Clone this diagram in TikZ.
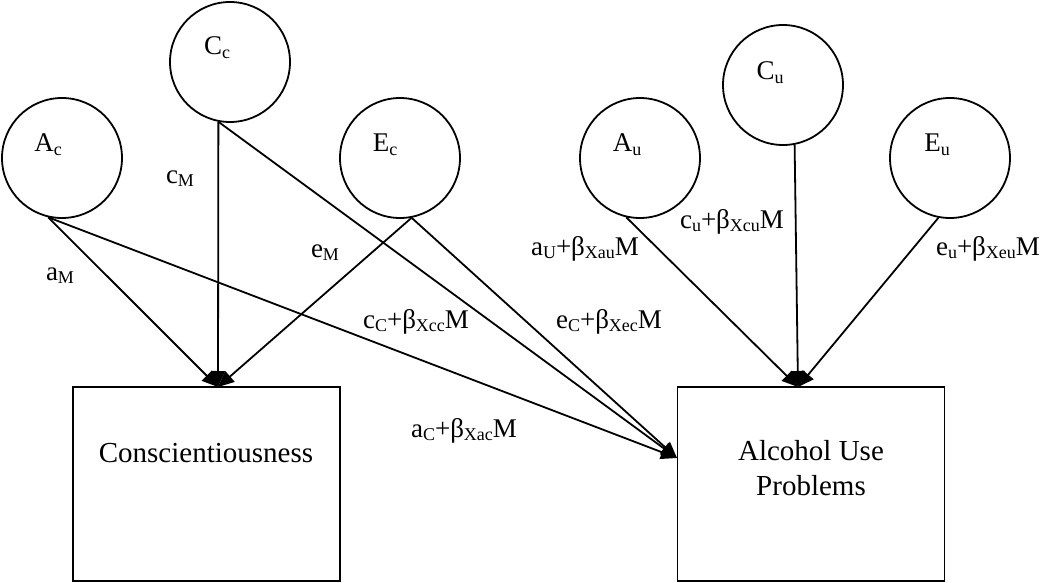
\documentclass[tikz,border=0pt]{standalone}
\usepackage{fontspec}
\setmainfont{Liberation Serif}
\usetikzlibrary{arrows.meta}
\newcommand\lsb[1]{\raisebox{-3.5pt}{\fontsize{18}{18}\selectfont #1}}
\begin{document}
\begin{tikzpicture}[x=1pt,y=-1pt,
  lat/.style={draw,circle,line width=1.8pt,minimum size=120pt,inner sep=0pt},
  obs/.style={draw,rectangle,line width=1.8pt,minimum width=267pt,minimum height=194pt,inner sep=0pt},
  lab/.style={font=\fontsize{27}{30}\selectfont,inner sep=0pt,anchor=base},
  btxt/.style={font=\fontsize{29}{35}\selectfont,inner sep=0pt,anchor=base,align=center},
  path/.style={line width=1.8pt,-{Triangle[length=16pt,width=14pt]}}]
\useasboundingbox (0,0) rectangle (1050,583);
% latent variables
\node[lat] (Ac) at (62,158) {};
\node[lat] (Cc) at (230,62) {};
\node[lat] (Ec) at (400,158) {};
\node[lat] (Au) at (640,158) {};
\node[lat] (Cu) at (783,85) {};
\node[lat] (Eu) at (950,158) {};
\node[lab] (tAc) at (48,152) {A\lsb{c}};
\node[lab] (tCc) at (217,55) {C\lsb{c}};
\node[lab] (tEc) at (385,152) {E\lsb{c}};
\node[lab] (tAu) at (627,152) {A\lsb{u}};
\node[lab] (tCu) at (770,80) {C\lsb{u}};
\node[lab] (tEu) at (937,152) {E\lsb{u}};
% observed variables
\node[obs] (cons) at (206.5,484) {};
\node[obs] (alc) at (811,484) {};
\node[btxt] (tcons) at (206,462) {Conscientiousness};
\node[btxt] (talc1) at (811,460) {Alcohol Use};
\node[btxt] (talc2) at (811,495) {Problems};
\coordinate (consin) at (218,387);
\coordinate (alcin) at (798,387);
\coordinate (alcleft) at (677,458);
% paths
\draw[path] (Ac.257) -- (consin);
\draw[path] (Cc.259) -- (consin);
\draw[path] (Ec.281) -- (consin);
\draw[path] (Ac.257) -- (alcleft);
\draw[path] (Cc.259) -- (alcleft);
\draw[path] (Ec.281) -- (alcleft);
\draw[path] (Au.257) -- (alcin);
\draw[path] (Cu.281) -- (alcin);
\draw[path] (Eu.259) -- (alcin);
% path labels
\node[lab] (laM) at (60,280) {a\lsb{M}};
\node[lab] (lcM) at (180,183) {c\lsb{M}};
\node[lab] (leM) at (325,257) {e\lsb{M}};
\node[lab] (lcC) at (416,328) {c\lsb{C}+β\lsb{Xcc}M};
\node[lab] (leC) at (609,328) {e\lsb{C}+β\lsb{Xec}M};
\node[lab] (laC) at (464,437) {a\lsb{C}+β\lsb{Xac}M};
\node[lab] (laU) at (585,255) {a\lsb{U}+β\lsb{Xau}M};
\node[lab] (lcu) at (732,228) {c\lsb{u}+β\lsb{Xcu}M};
\node[lab] (leu) at (988,255) {e\lsb{u}+β\lsb{Xeu}M};
\end{tikzpicture}
\end{document}
